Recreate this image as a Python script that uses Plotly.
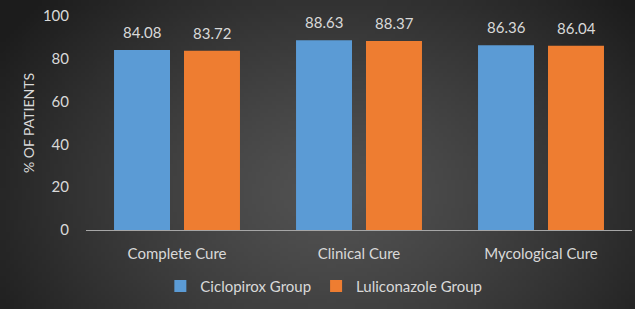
import base64, zlib, struct
import numpy as np
import plotly.graph_objects as go

categories = ["Complete Cure", "Clinical Cure", "Mycological Cure"]
ciclopirox = [84.08, 88.63, 86.36]
luliconazole = [83.72, 88.37, 86.04]
series_names = ["Ciclopirox Group", "Luliconazole Group"]
y_ticks = [0, 20, 40, 60, 80, 100]

W, H = 635, 309
ML, MR, MT, MB = 86, 3, 16, 79


def radial_png(w, h):
    yy, xx = np.mgrid[0:h, 0:w].astype(float)
    cx, cy = w * 0.52, h * 0.62
    d = np.sqrt(((xx - cx) / (w * 0.62)) ** 2 + ((yy - cy) / (h * 0.95)) ** 2)
    d = np.clip(d, 0, 1)
    v = 82 - (82 - 28) * d ** 1.3
    img = np.clip(v, 0, 255).astype(np.uint8)
    raw = b"".join(b"\x00" + bytes(np.stack([r, r, r], axis=1).flatten()) for r in img)

    def chunk(t, data):
        c = struct.pack(">I", len(data)) + t + data
        return c + struct.pack(">I", zlib.crc32(t + data) & 0xffffffff)

    png = b"\x89PNG\r\n\x1a\n" + chunk(b"IHDR", struct.pack(">IIBBBBB", w, h, 8, 2, 0, 0, 0))
    png += chunk(b"IDAT", zlib.compress(raw, 9)) + chunk(b"IEND", b"")
    return "data:image/png;base64," + base64.b64encode(png).decode()


pw = W - ML - MR
ph = H - MT - MB

fig = go.Figure()
fig.add_trace(go.Bar(x=categories, y=ciclopirox, name=series_names[0],
                     marker=dict(color="#5b9bd5", line=dict(width=0))))
fig.add_trace(go.Bar(x=categories, y=luliconazole, name=series_names[1],
                     marker=dict(color="#ee7d31", line=dict(width=0))))

for vals, shift in [(ciclopirox, -35), (luliconazole, 35)]:
    for c, v in zip(categories, vals):
        fig.add_annotation(x=c, y=v, text=f"{v:.2f}", showarrow=False,
                           xshift=shift, yanchor="bottom", yshift=7,
                           font=dict(size=15, color="#d9d9d9"))

fig.add_layout_image(dict(source=radial_png(160, 78), xref="paper", yref="paper",
                          x=-ML / pw, y=1 + MT / ph, sizex=W / pw, sizey=H / ph,
                          xanchor="left", yanchor="top", sizing="stretch", layer="below"))

fig.update_layout(
    width=W, height=H,
    margin=dict(l=ML, r=MR, t=MT, b=MB),
    paper_bgcolor="#333333", plot_bgcolor="rgba(0,0,0,0)",
    font=dict(family="Lato", color="#d9d9d9", size=14),
    barmode="group", bargap=0.231, bargroupgap=0.2,
    showlegend=True,
    legend=dict(orientation="h", xref="container", x=0.51, xanchor="center",
                yref="container", y=0.02, yanchor="bottom", bgcolor="rgba(0,0,0,0)",
                font=dict(size=15, color="#d9d9d9"), itemwidth=30,
                traceorder="normal"),
    xaxis=dict(showgrid=False, showline=True, linecolor="#a6a6a6", linewidth=1,
               ticks="", tickfont=dict(size=15, color="#d9d9d9"), ticklabelstandoff=10),
    yaxis=dict(range=[0, 100], tickvals=y_ticks, showgrid=False, zeroline=False,
               showline=False, ticks="", tickfont=dict(size=15, color="#d9d9d9"),
               ticklabelstandoff=16,
               title=dict(text="% OF PATIENTS", font=dict(size=14, color="#d9d9d9"),
                          standoff=4)),
)

fig.write_html("out.html")
